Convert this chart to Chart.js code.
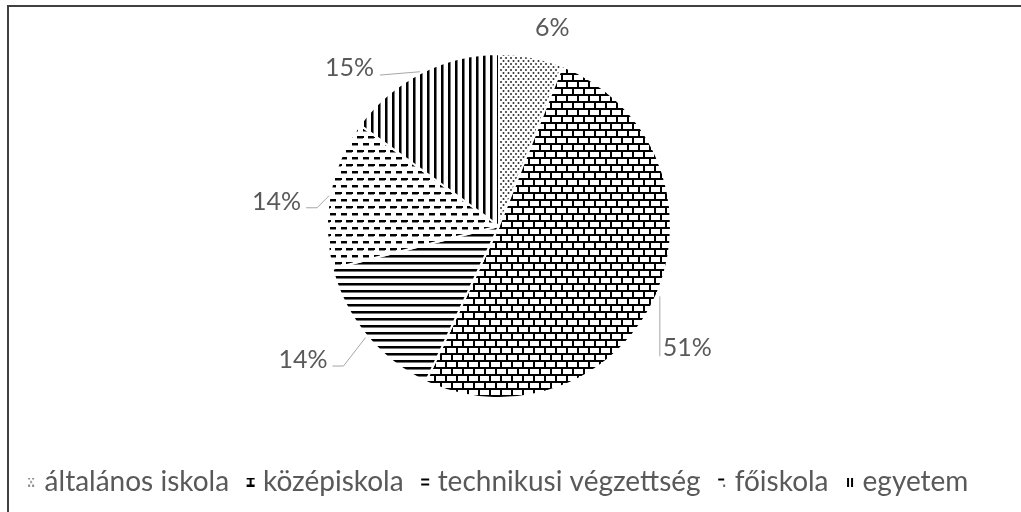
<!DOCTYPE html>
<html><head><meta charset="utf-8">
<script src="https://cdn.jsdelivr.net/npm/chart.js@4.4.1/dist/chart.umd.min.js"></script>
<style>
html,body{margin:0;padding:0;background:#fff;overflow:hidden;width:1021px;height:512px;position:relative;}
#frame{position:absolute;left:7px;top:5px;width:1100px;height:600px;border-left:2px solid #404040;border-top:2px solid #404040;box-sizing:border-box;}
#c{position:absolute;left:0;}
</style></head><body>
<div id="frame"></div>
<canvas id="c"></canvas>
<script>
// ---- data ----
const categories = ['általános iskola', 'középiskola', 'technikusi végzettség', 'főiskola', 'egyetem'];
const shares = [6, 51, 14, 14, 15];
const valueLabels = ['6%', '51%', '14%', '14%', '15%'];

// ---- label layout (offset of label centre from slice's outer mid point) ----
const labelOffsets = [[21, -29], [30.5, 54], [-63.5, 24.4], [-53.5, 8], [-71.5, -4.7]];
const leaderKinds = ['none', 'vertical', 'elbow', 'elbow', 'straight'];

// ---- geometry ----
const FS = 25, LFS = 28, P = 19, LEG_CY = 482, PIE_CY = 226, PIE_CX = 499, R = 172;
const H = LFS + P + 10;
const T = Math.round(LEG_CY - P - LFS / 2);
const TOP = 2 * PIE_CY - T;
const canvas = document.getElementById('c');
canvas.width = 1021;
canvas.height = 512 - TOP;
canvas.style.top = TOP + 'px';
const ctx = canvas.getContext('2d');

function tile(w, h, draw) {
  const c = document.createElement('canvas');
  c.width = w; c.height = h;
  const g = c.getContext('2d');
  draw(g);
  return c;
}
function makePattern(w, h, draw) {
  const c = tile(w, h, g => { g.fillStyle = '#fff'; g.fillRect(0, 0, w, h); draw(g); });
  return ctx.createPattern(c, 'repeat');
}
const patDots = makePattern(5, 6, g => {
  g.fillStyle = '#2e2e2e';
  g.beginPath(); g.arc(1, 1, 1.0, 0, Math.PI * 2); g.fill();
  g.beginPath(); g.arc(3.5, 4, 1.0, 0, Math.PI * 2); g.fill();
});
const patBrick = makePattern(22, 14, g => {
  g.fillStyle = '#000'; g.fillRect(0, 0, 22, 14);
  g.fillStyle = '#fff';
  g.fillRect(2, 2, 9, 5); g.fillRect(13, 2, 9, 5);
  g.fillRect(0, 9, 5, 5); g.fillRect(7, 9, 9, 5); g.fillRect(18, 9, 4, 5);
});
const patHLines = makePattern(4, 7, g => {
  g.fillStyle = '#000'; g.fillRect(0, 0, 4, 2);
  g.fillStyle = '#777'; g.fillRect(0, 2, 4, 1);
});
const patDashes = makePattern(11, 14, g => {
  g.fillStyle = '#000';
  g.fillRect(0, 0, 6, 2);
  g.fillRect(5, 7, 6, 2); g.fillRect(0, 7, 1, 2);
  g.fillStyle = '#888';
  g.fillRect(0, 2, 6, 1);
  g.fillRect(5, 9, 6, 1);
});
const patVLines = makePattern(7, 4, g => {
  g.fillStyle = '#000'; g.fillRect(0, 0, 2, 4);
  g.fillStyle = '#777'; g.fillRect(2, 0, 1, 4);
});
const patterns = [patDots, patBrick, patHLines, patDashes, patVLines];

// legend marker glyphs (small cut-outs of each pattern), drawn inside a 20px wide canvas
const GX = 8;
const markers = [
  tile(20, 9, g => { g.fillStyle = '#555';
    [[1,1],[5,1],[3,4.5],[1,8],[5,8]].forEach(([x,y]) => { g.beginPath(); g.arc(GX + x, y, 0.9, 0, Math.PI*2); g.fill(); }); }),
  tile(20, 9, g => { g.fillStyle = '#000'; g.fillRect(GX, 0, 8, 2); g.fillRect(GX + 3, 2, 2, 5); g.fillRect(GX, 7, 8, 2); }),
  tile(20, 9, g => { g.fillStyle = '#000'; g.fillRect(GX, 1, 8, 2); g.fillRect(GX, 6, 8, 2); }),
  tile(20, 9, g => { g.fillStyle = '#000'; g.fillRect(GX, 1, 6, 2); g.fillStyle = '#666'; g.fillRect(GX + 5, 7, 2, 2); }),
  tile(20, 9, g => { g.fillStyle = '#000'; g.fillRect(GX + 1, 0, 2, 9); g.fillRect(GX + 5, 0, 2, 9); })
];

const labelPlugin = {
  id: 'pieLabels',
  afterDatasetsDraw(chart) {
    const c = chart.ctx;
    const meta = chart.getDatasetMeta(0);
    c.save();
    c.font = FS + 'px Lato';
    c.fillStyle = '#595959';
    c.textAlign = 'center';
    c.textBaseline = 'middle';
    c.strokeStyle = '#a6a6a6';
    c.lineWidth = 1;
    meta.data.forEach((arc, i) => {
      const p = arc.getProps(['x', 'y', 'startAngle', 'endAngle', 'outerRadius'], true);
      const mid = (p.startAngle + p.endAngle) / 2;
      const ex = p.x + Math.cos(mid) * p.outerRadius;
      const ey = p.y + Math.sin(mid) * p.outerRadius;
      const tx = ex + labelOffsets[i][0];
      const ty = ey + labelOffsets[i][1];
      const text = valueLabels[i];
      c.fillText(text, tx, ty);
      const w = c.measureText(text).width;
      const kind = leaderKinds[i];
      c.beginPath();
      if (kind === 'straight') {
        c.moveTo(tx + w / 2 + 6, ty + 7);
        c.lineTo(ex - 1, ey - 1);
      } else if (kind === 'elbow') {
        const sx = tx + w / 2 + 5, sy = ty + 6;
        c.moveTo(sx, sy);
        c.lineTo(sx + 11, sy);
        c.lineTo(ex - 1, ey + 2);
      } else if (kind === 'vertical') {
        const sx = tx - w / 2 - 3;
        c.moveTo(sx, ty + 8);
        c.lineTo(sx, ey + 2);
      }
      if (kind !== 'none') c.stroke();
    });
    c.restore();
  }
};

new Chart(ctx, {
  type: 'pie',
  data: {
    labels: categories,
    datasets: [{
      data: shares,
      backgroundColor: patterns,
      borderColor: '#ffffff',
      borderWidth: 2
    }]
  },
  options: {
    responsive: false,
    animation: false,
    radius: R,
    layout: { padding: { top: 0, left: 0, right: 1021 - 2 * PIE_CX, bottom: 512 - T - H } },
    plugins: {
      tooltip: { enabled: false },
      legend: {
        position: 'bottom',
        labels: {
          font: { family: 'Lato', size: LFS },
          color: '#595959',
          usePointStyle: true,
          pointStyleWidth: 1,
          boxHeight: 9,
          padding: P,
          generateLabels(chart) {
            return chart.data.labels.map((label, i) => ({
              text: label,
              fillStyle: patterns[i],
              strokeStyle: '#fff',
              lineWidth: 0,
              pointStyle: markers[i],
              fontColor: '#595959',
              hidden: false,
              index: i
            }));
          }
        }
      }
    }
  },
  plugins: [labelPlugin]
});
</script>
</body></html>
